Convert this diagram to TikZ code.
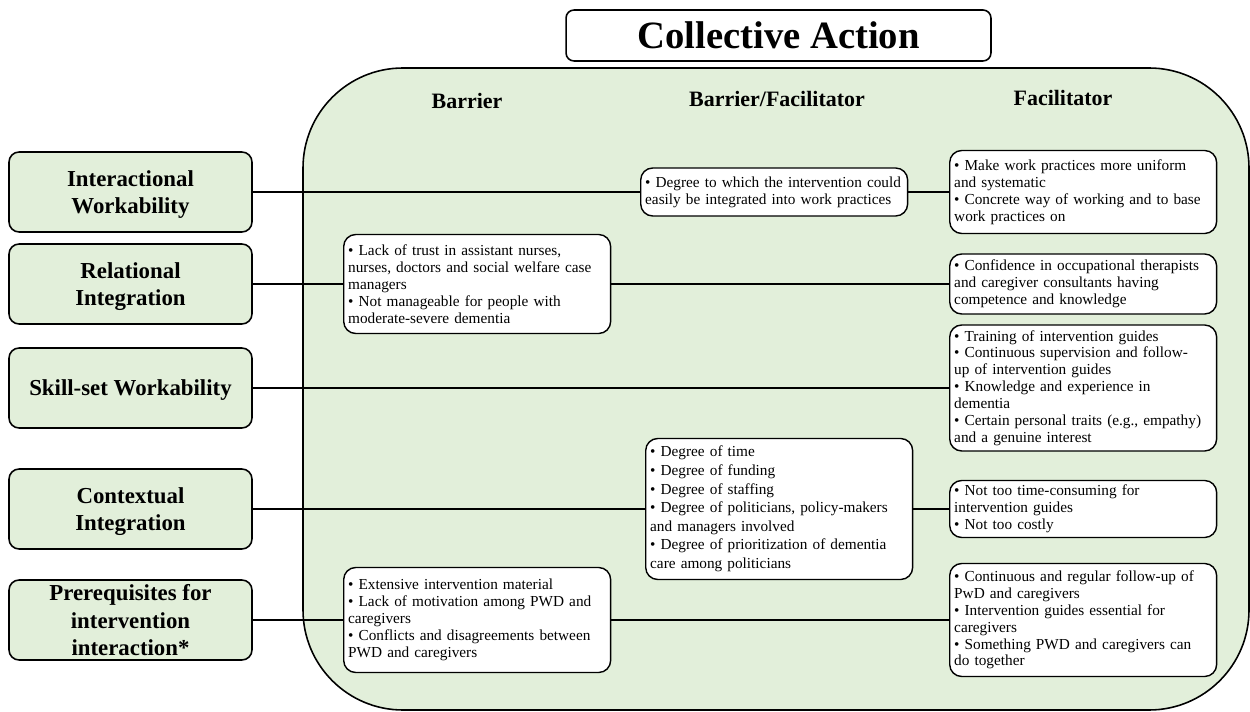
\documentclass[tikz,border=0pt]{standalone}
\usepackage{fontspec}
\setmainfont{Liberation Serif}
\usepackage{xcolor}
\usepackage{tikz}
\definecolor{panelgreen}{HTML}{E2EFDA}
\tikzset{
  link/.style={-, line width=0.8pt}, % a simple straight line
  stage/.style={draw, line width=0.9pt, fill=panelgreen, rounded corners=0.2cm,
    minimum width=4.86cm, minimum height=1.6cm, inner ysep=0pt, text depth=0pt, align=center,
    font=\fontsize{13}{15.6}\selectfont\bfseries},
  note/.style={draw, line width=0.8pt, fill=white, rounded corners=0.24cm,
    anchor=west, align=left, text width=5.16cm, inner xsep=0.09cm, inner ysep=0.06cm,
    font=\fontsize{8.7}{9.6}\selectfont},
  head/.style={anchor=base, font=\fontsize{12.5}{15}\selectfont\bfseries}
}

\begin{document}
\begin{tikzpicture}[x=0.02cm, y=-0.02cm]
  \useasboundingbox (0,0) rectangle (1250,712);

  % Panel and title
  \draw[line width=0.9pt, fill=panelgreen, rounded corners=2cm] (303,68) rectangle (1249,710);
  \node[draw, fill=white, line width=0.9pt, rounded corners=0.16cm, minimum width=8.5cm,
    minimum height=1.02cm, font=\fontsize{22}{26}\selectfont\bfseries] (title) at (778.5,35.5) {Collective Action};

  % Column heads
  \node[head] (barrier) at (467,109) {Barrier};
  \node[head] (mixed) at (777,107) {Barrier/Facilitator};
  \node[head] (facil) at (1063,106) {Facilitator};

  % Constructs
  \node[stage] (interact) at (130.5,192) {Interactional\\Workability};
  \node[stage] (relation) at (130.5,284) {Relational\\Integration};
  \node[stage] (skill) at (130.5,388) {Skill-set Workability};
  \node[stage] (context) at (130.5,509) {Contextual\\Integration};
  \node[stage] (prereq) at (130.5,620) {Prerequisites for\\intervention\\interaction*};

  % Barriers
  \node[note, minimum height=1.98cm] (trust) at (343,284) {\textbullet\ Lack of trust in assistant nurses,\\nurses, doctors and social welfare case\\managers\\\textbullet\ Not manageable for people with\\moderate-severe dementia};
  \node[note, minimum height=2.1cm] (material) at (343,620) {\textbullet\ Extensive intervention material\\\textbullet\ Lack of motivation among PWD and\\caregivers\\\textbullet\ Conflicts and disagreements between\\PWD and caregivers};

  % Barriers/facilitators
  \node[note, minimum height=0.96cm] (degree) at (640,192) {\textbullet\ Degree to which the intervention could\\easily be integrated into work practices};
  \node[note, minimum height=2.82cm, font=\fontsize{8.7}{10.6}\selectfont] (resources) at (645,509) {\textbullet\ Degree of time\\\textbullet\ Degree of funding\\\textbullet\ Degree of staffing\\\textbullet\ Degree of politicians, policy-makers\\and managers involved\\\textbullet\ Degree of prioritization of dementia\\care among politicians};

  % Facilitators
  \node[note, minimum height=1.66cm] (uniform) at (949,192) {\textbullet\ Make work practices more uniform\\and systematic\\\textbullet\ Concrete way of working and to base\\work practices on};
  \node[note, minimum height=1.2cm] (confidence) at (949,284) {\textbullet\ Confidence in occupational therapists\\and caregiver consultants having\\competence and knowledge};
  \node[note, minimum height=2.52cm] (training) at (949,388) {\textbullet\ Training of intervention guides\\\textbullet\ Continuous supervision and follow-\\up of intervention guides\\\textbullet\ Knowledge and experience in\\dementia\\\textbullet\ Certain personal traits (e.g., empathy)\\and a genuine interest};
  \node[note, minimum height=1.14cm] (costly) at (949,509) {\textbullet\ Not too time-consuming for\\intervention guides\\\textbullet\ Not too costly};
  \node[note, minimum height=2.26cm] (followup) at (949,620) {\textbullet\ Continuous and regular follow-up of\\PwD and caregivers\\\textbullet\ Intervention guides essential for\\caregivers\\\textbullet\ Something PWD and caregivers can\\do together};

  % Connect
  \draw[link] (interact) -- (degree) -- (uniform);
  \draw[link] (relation) -- (trust) -- (confidence);
  \draw[link] (skill) -- (training);
  \draw[link] (context) -- (resources) -- (costly);
  \draw[link] (prereq) -- (material) -- (followup);
\end{tikzpicture}
\end{document}
